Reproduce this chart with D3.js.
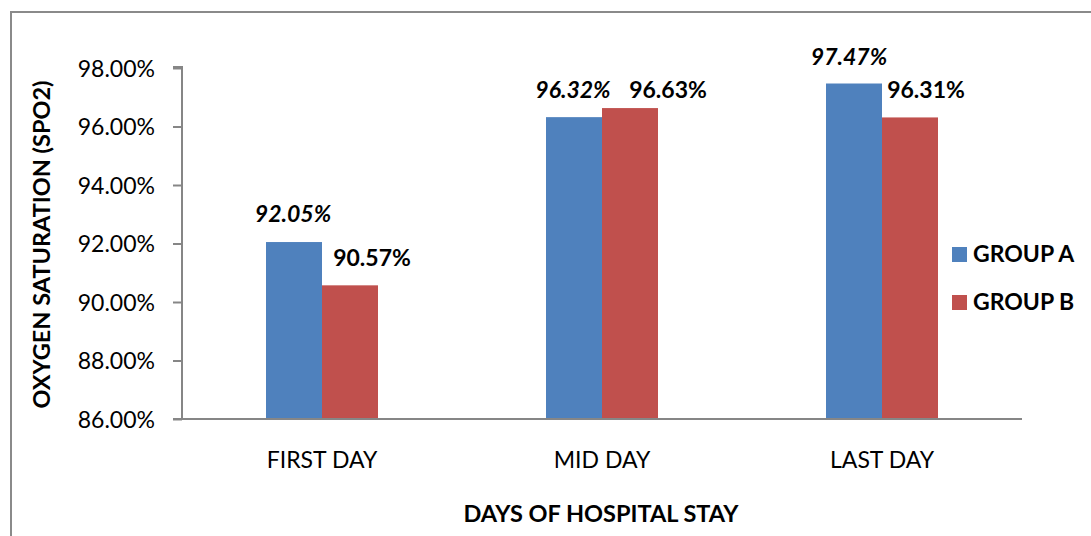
<!DOCTYPE html>
<html><head><meta charset="utf-8">
<script src="https://cdn.jsdelivr.net/npm/d3@7/dist/d3.min.js"></script>
<style>body{margin:0;background:#fff}svg{display:block}text{font-family:Lato,"Open Sans",sans-serif;fill:#000}</style>
</head><body><svg id="c" width="1091" height="536"></svg>
<script>
const categories = ["FIRST DAY", "MID DAY", "LAST DAY"];
const seriesNames = ["GROUP A", "GROUP B"];
const groupA = [92.05, 96.32, 97.47];
const groupB = [90.57, 96.63, 96.31];
const yTicks = [86, 88, 90, 92, 94, 96, 98];
const colors = ["#4F81BD", "#C0504D"];

(function () {
const svg = d3.select("#c");
const W = 1091, H = 536;
// chart border
svg.append("rect").attr("x", 11).attr("y", 12).attr("width", W + 10).attr("height", H + 10)
  .attr("fill", "none").attr("stroke", "#8a8a8a").attr("stroke-width", 2);

const pL = 182, pR = 1022, pT = 68, pB = 419;
const x0 = d3.scaleBand().domain(categories).range([pL, pR]);
const x1 = d3.scaleBand().domain(seriesNames).range([0, x0.bandwidth()]).paddingInner(0).paddingOuter(1.5);
const y = d3.scaleLinear().domain([86, 98]).range([pB, pT]);

// y axis
const yAxis = d3.axisLeft(y).tickValues(yTicks).tickSize(9).tickPadding(3).tickFormat(d => d.toFixed(2) + "%");
const gy = svg.append("g").attr("transform", `translate(${pL},0)`).call(yAxis);
gy.select(".domain").attr("stroke", "#868686").attr("stroke-width", 2).attr("d", `M0,${pB}V${pT - 1}H-9`);
gy.selectAll(".tick line").attr("stroke", "#868686").attr("stroke-width", 2);
gy.selectAll(".tick text").attr("font-size", 23).attr("font-family", "Lato").attr("fill", "#000").attr("dx", -15).attr("dy", "0.35em");

// bars
const data = categories.map((c, i) => ({ c, vals: [groupA[i], groupB[i]] }));
const g = svg.append("g");
data.forEach(d => {
  d.vals.forEach((v, j) => {
    g.append("rect")
      .attr("x", x0(d.c) + x1(seriesNames[j]))
      .attr("y", y(v))
      .attr("width", x1.bandwidth())
      .attr("height", y(86) - y(v))
      .attr("fill", colors[j]);
  });
});

// x axis line
svg.append("line").attr("x1", pL - 9).attr("x2", pR).attr("y1", pB).attr("y2", pB)
  .attr("stroke", "#868686").attr("stroke-width", 2);

// category labels
categories.forEach(c => {
  svg.append("text").attr("x", x0(c) + x0.bandwidth() / 2).attr("y", 468)
    .attr("text-anchor", "middle").attr("font-size", 23).text(c);
});

// data labels (manual offsets, as in the source chart)
const labelDx = [[-1, 22], [-1, 38], [-5, 16]];
const labelY = [[222, 266], [98, 98], [65, 98]];
data.forEach((d, i) => {
  d.vals.forEach((v, j) => {
    svg.append("text")
      .attr("x", x0(d.c) + x1(seriesNames[j]) + x1.bandwidth() / 2 + labelDx[i][j])
      .attr("y", labelY[i][j])
      .attr("text-anchor", "middle").attr("font-size", 23).attr("font-weight", "bold")
      .attr("font-style", j === 0 ? "italic" : "normal")
      .text(v.toFixed(2) + "%");
  });
});

// axis titles
svg.append("text").attr("transform", `translate(50,${(pT + pB) / 2 + 1}) rotate(-90)`)
  .attr("text-anchor", "middle").attr("font-size", 23.5).attr("font-weight", "bold").text("OXYGEN SATURATION (SPO2)");
svg.append("text").attr("x", 601).attr("y", 522).attr("text-anchor", "middle")
  .attr("font-size", 23.5).attr("font-weight", "bold").text("DAYS OF HOSPITAL STAY");

// legend
seriesNames.forEach((s, i) => {
  const ly = 247 + i * 48;
  svg.append("rect").attr("x", 952).attr("y", ly).attr("width", 15).attr("height", 15).attr("fill", colors[i]);
  svg.append("text").attr("x", 973).attr("y", ly + 15).attr("font-size", 23).attr("font-weight", "bold").text(s);
});
})();
</script></body></html>
